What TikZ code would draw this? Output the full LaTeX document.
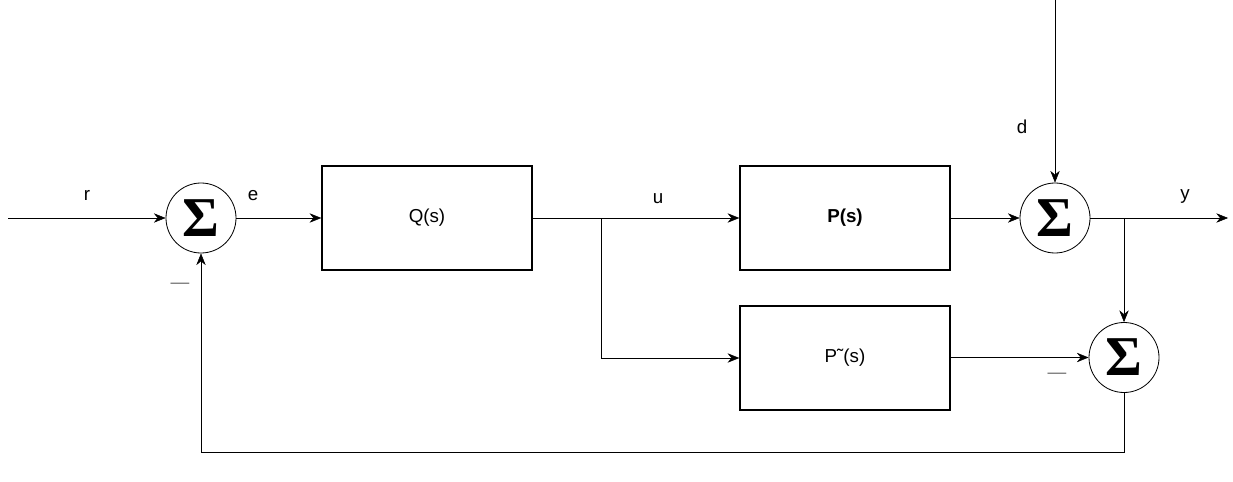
\documentclass[tikz,border=0pt]{standalone}
\usepackage{fontspec}
\setmainfont{Liberation Sans}
\newfontfamily\sigmafont{Liberation Serif}
\usetikzlibrary{positioning, arrows.meta}
\tikzset{
	->, % all connectors are directed
	>={Stealth[length=10pt, width=8pt]}, % filled arrow heads
	line width=1pt,
	block/.style={draw, rectangle, minimum width=6.3cm, minimum height=3.12cm, line width=1.2pt, font=\fontsize{16}{18}\selectfont}, % transfer blocks
	sum/.style={draw, circle, minimum size=2.1cm, inner sep=0pt, line width=0.7pt}, % summing junctions
	lbl/.style={font=\fontsize{16}{18}\selectfont}, % signal names
	minus/.style={text=black!55, font=\fontsize{16}{18}\selectfont} % sign marks
}
\newcommand{\sumsign}{{\sigmafont\bfseries\fontsize{48}{48}\selectfont Σ}}

\begin{document}
\begin{tikzpicture}[x=0.03cm, y=-0.03cm]
				\useasboundingbox (0,0) rectangle (1233,482);
				% blocks and sums
				\node[sum] (s1) at (201,218) {\sumsign};
				\node[block] (Q) at (427,218) {Q(s)};
				\node[block] (P) at (845,218) {\textbf{P(s)}};
				\node[block, below of=P, node distance=4.2cm] (Pt) {P˜(s)};
				\node[sum] (s2) at (1055,218) {\sumsign};
				\node[sum] (s3) at (1124,357.5) {\sumsign};
				% free ends and branch points
				\coordinate (rin) at (8,218);
				\coordinate (yout) at (1228,218);
				\coordinate (din) at (1055,0);
				\coordinate (bu) at (601,218);
				\coordinate (by) at (1124,218);
				\coordinate (fb) at (201,452);
				% signal labels
				\node[lbl] (r) at (87,195) {r};
				\node[lbl] (e) at (253,196) {e};
				\node[lbl] (u) at (658,199) {u};
				\node[lbl] (d) at (1022,127) {d};
				\node[lbl] (y) at (1185,196) {y};
				\node[minus] (m1) at (180,286) {—};
				\node[minus] (m2) at (1057,376) {—};
				% connections
				\path	(rin) edge (s1)
						(s1) edge (Q)
						(Q.east) edge (P.west)
						(P) edge (s2)
						(din) edge (s2.north)
						(s2) edge (yout)
						(by) edge (s3.north)
						(Pt.east |- s3) edge (s3);
				\draw (bu) |- (Pt.west);
				\draw (s3.south) |- (fb) -- (s1.south);
			\end{tikzpicture}
\end{document}
